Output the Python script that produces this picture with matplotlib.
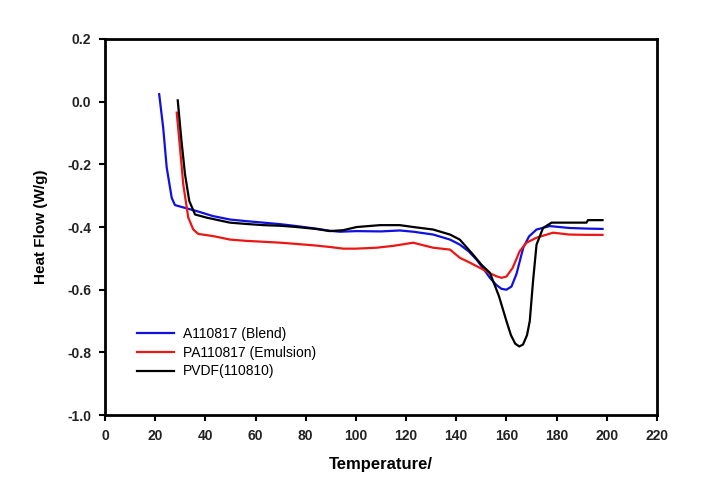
import matplotlib
matplotlib.use("Agg")
import matplotlib.pyplot as plt

plt.rcParams['font.family'] = ['Liberation Sans', 'DejaVu Sans']

# A110817 (Blend)
blend_x = [21.6, 23.2, 24.6, 26.6, 27.9, 31.9, 36.5, 43, 49.8, 56, 63.1, 70, 76.4, 84, 89.6,
           93.6, 100.3, 110, 117.5, 122.9, 130.8, 137.5, 141.4, 145, 148.1, 151, 153.4, 156,
           158, 160, 162, 164, 166.7, 169, 172, 177.3, 185, 192, 198.3]
blend_y = [0.024, -0.083, -0.21, -0.307, -0.33, -0.339, -0.349, -0.365, -0.376, -0.381, -0.386,
           -0.391, -0.397, -0.405, -0.412, -0.415, -0.413, -0.414, -0.411, -0.415, -0.424, -0.44,
           -0.456, -0.478, -0.504, -0.535, -0.562, -0.585, -0.597, -0.60, -0.59, -0.55, -0.466,
           -0.43, -0.408, -0.397, -0.403, -0.405, -0.406]

# PA110817 (Emulsion)
emul_x = [28.6, 29.9, 31.2, 33.2, 35.2, 37.2, 43.2, 49.8, 56, 63.1, 70, 76.4, 84, 90, 95,
          100, 108.2, 115, 122.8, 130.8, 137.5, 141.4, 145, 149.4, 153, 156, 158, 160,
          162.5, 165.3, 168, 172, 178.6, 185, 192, 198.3]
emul_y = [-0.035, -0.147, -0.264, -0.37, -0.408, -0.422, -0.429, -0.44, -0.444, -0.447, -0.45,
          -0.454, -0.459, -0.464, -0.469, -0.469, -0.466, -0.46, -0.45, -0.466, -0.472, -0.498,
          -0.512, -0.53, -0.546, -0.557, -0.562, -0.558, -0.53, -0.477, -0.45, -0.434, -0.418,
          -0.424, -0.425, -0.425]

# PVDF(110810)
pvdf_x = [29.0, 30.5, 31.9, 33.6, 35.9, 40.5, 49.8, 56, 63.1, 70, 76.4, 84, 89.6, 95,
          100.3, 109.6, 117.5, 122.9, 130.8, 137.5, 141.4, 146.7, 150, 153.4, 157, 160,
          161.8, 163.5, 165.1, 166.6, 168.2, 169.3, 170.6, 172, 174.6, 178, 185, 191.9, 192.5, 198.3]
pvdf_y = [0.004, -0.126, -0.232, -0.317, -0.36, -0.37, -0.386, -0.39, -0.394, -0.396, -0.40,
          -0.406, -0.413, -0.41, -0.40, -0.394, -0.394, -0.40, -0.408, -0.424, -0.44, -0.488,
          -0.52, -0.546, -0.62, -0.70, -0.745, -0.772, -0.781, -0.775, -0.745, -0.70, -0.573,
          -0.456, -0.403, -0.386, -0.386, -0.386, -0.378, -0.378]

labels = ['A110817 (Blend)', 'PA110817 (Emulsion)', 'PVDF(110810)']
colors = ['#1010e0', '#ee1515', '#000000']

xticks = list(range(0, 221, 20))
yticks = [0.2, 0.0, -0.2, -0.4, -0.6, -0.8, -1.0]

fig = plt.figure(figsize=(7.21, 4.93), dpi=100)
ax = fig.add_axes([0.1456, 0.158, 0.7656, 0.763])

for xs, ys, lab, c in zip([blend_x, emul_x, pvdf_x], [blend_y, emul_y, pvdf_y], labels, colors):
    ax.plot(xs, ys, color=c, lw=1.6, label=lab)

ax.set_xlim(0, 220)
ax.set_ylim(-1.0, 0.2)
ax.set_xticks(xticks)
ax.set_yticks(yticks)
ax.set_xticklabels([str(t) for t in xticks])
ax.set_yticklabels(['%.1f' % t for t in yticks])
ax.tick_params(direction='out', length=4, width=1.5, labelsize=10, pad=6,
               top=False, right=False)
for lbl in ax.get_xticklabels() + ax.get_yticklabels():
    lbl.set_fontweight('bold')
    lbl.set_color('#222222')
for s in ax.spines.values():
    s.set_linewidth(2.0)

ax.set_xlabel('Temperature/', fontsize=12, fontweight='bold', labelpad=10)
ax.set_ylabel('Heat Flow (W/g)', fontsize=11, fontweight='bold', labelpad=14)

ax.legend(loc='upper left', bbox_to_anchor=(0.058, 0.235), frameon=False,
          borderpad=0, borderaxespad=0, handlelength=2.7, handletextpad=0.6,
          labelspacing=0.35, fontsize=10)

fig.savefig('out.png', dpi=100)
